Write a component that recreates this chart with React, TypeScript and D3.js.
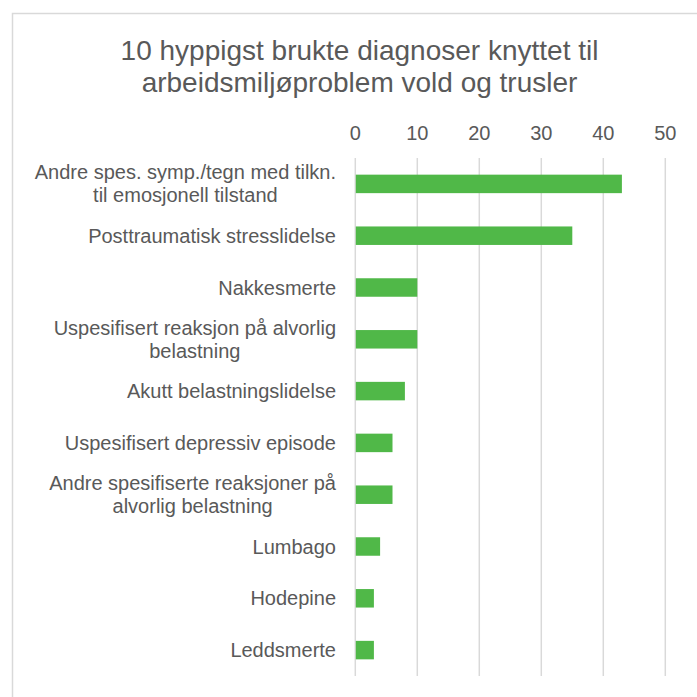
import React, { useEffect, useRef } from 'react'
import * as d3 from 'd3'

const title = ['10 hyppigst brukte diagnoser knyttet til', 'arbeidsmiljøproblem vold og trusler']

const diagnoses = [
    'Andre spes. symp./tegn med tilkn. til emosjonell tilstand',
    'Posttraumatisk stresslidelse',
    'Nakkesmerte',
    'Uspesifisert reaksjon på alvorlig belastning',
    'Akutt belastningslidelse',
    'Uspesifisert depressiv episode',
    'Andre spesifiserte reaksjoner på alvorlig belastning',
    'Lumbago',
    'Hodepine',
    'Leddsmerte',
]

const counts = [43, 35, 10, 10, 8, 6, 6, 4, 3, 3]

const ticks = [0, 10, 20, 30, 40, 50]

const W = 697
const H = 697
const FONT = '"Liberation Sans", Arial, sans-serif'
const TEXT = '#595959'
const GRID = '#d9d9d9'
const BAR = '#50b848'

const App = () => {
    const ref = useRef<SVGSVGElement>(null)

    useEffect(() => {
        const svg = d3.select(ref.current)
        svg.selectAll('*').remove()

        // chart frame (right and bottom edges fall outside the picture)
        svg.append('rect')
            .attr('x', 12.5).attr('y', 13.5)
            .attr('width', 720).attr('height', 720)
            .attr('fill', '#fff')
            .attr('stroke', GRID).attr('stroke-width', 1.5)

        svg.append('text')
            .attr('text-anchor', 'middle')
            .attr('font-family', FONT)
            .attr('font-size', 28)
            .attr('fill', TEXT)
            .selectAll('tspan')
            .data(title)
            .join('tspan')
            .attr('x', 359.5)
            .attr('y', (d, i) => 60 + i * 32)
            .text(d => d)

        const x = d3.scaleLinear().domain([0, 50]).range([355.3, 665.3])
        const y = d3.scaleBand<string>()
            .domain(diagnoses)
            .range([158, 676])
            .paddingInner(0.643)
            .paddingOuter(0.3215)

        const g = svg.append('g')

        g.selectAll('line.grid')
            .data(ticks)
            .join('line')
            .attr('class', 'grid')
            .attr('x1', d => x(d)).attr('x2', d => x(d))
            .attr('y1', 158).attr('y2', 676)
            .attr('stroke', GRID).attr('stroke-width', 1.5)

        g.selectAll('text.tick')
            .data(ticks)
            .join('text')
            .attr('class', 'tick')
            .attr('x', d => x(d))
            .attr('y', 140)
            .attr('text-anchor', 'middle')
            .attr('font-family', FONT)
            .attr('font-size', 20)
            .attr('fill', TEXT)
            .text(d => d)

        g.selectAll('rect.bar')
            .data(counts)
            .join('rect')
            .attr('class', 'bar')
            .attr('x', x(0) + 0.5)
            .attr('y', (d, i) => y(diagnoses[i])!)
            .attr('width', d => x(d) - x(0) - 0.5)
            .attr('height', y.bandwidth())
            .attr('fill', BAR)

        // category labels, wrapped to the label column, block right-aligned, lines centred
        const ctx = document.createElement('canvas').getContext('2d')!
        ctx.font = `20px ${FONT}`
        const maxW = 312
        const wrap = (s: string) => {
            const lines: string[] = []
            let cur = ''
            s.split(' ').forEach(w => {
                const next = cur ? cur + ' ' + w : w
                if (cur && ctx.measureText(next).width > maxW) {
                    lines.push(cur)
                    cur = w
                } else cur = next
            })
            lines.push(cur)
            return lines
        }

        const right = 336
        const lineH = 23
        diagnoses.forEach(name => {
            const lines = wrap(name)
            const blockW = d3.max(lines, l => ctx.measureText(l).width)!
            const cx = right - blockW / 2
            const cy = y(name)! + y.bandwidth() / 2
            const t = g.append('text')
                .attr('text-anchor', 'middle')
                .attr('font-family', FONT)
                .attr('font-size', 20)
                .attr('fill', TEXT)
            lines.forEach((l, i) => {
                t.append('tspan')
                    .attr('x', cx)
                    .attr('y', cy + (i - (lines.length - 1) / 2) * lineH + 7)
                    .text(l)
            })
        })
    }, [])

    return (
        <svg
            ref={ref}
            width={W}
            height={H}
            style={{ position: 'fixed', left: 0, top: 0, background: '#fff' }}
        />
    )
}

export default App
